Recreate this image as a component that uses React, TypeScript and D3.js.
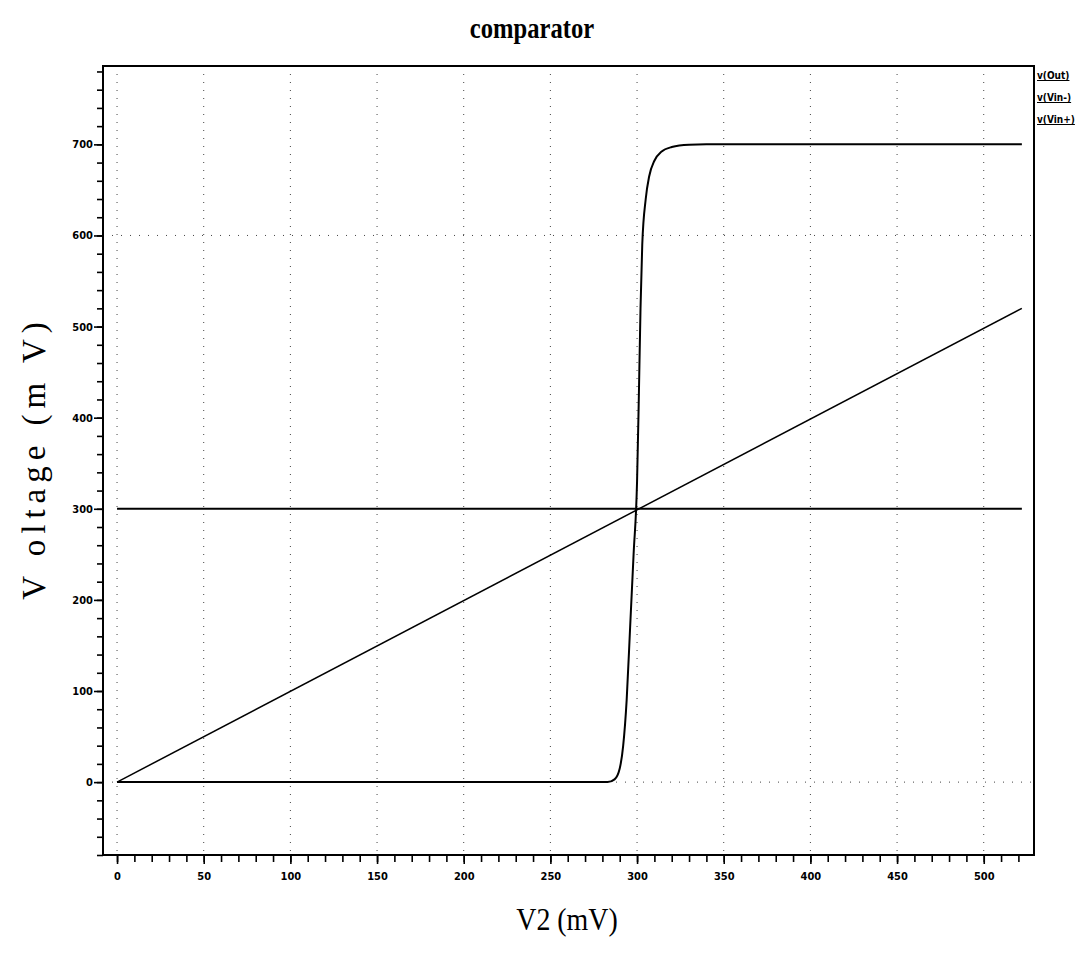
import React, { useEffect, useRef } from 'react';
import * as d3 from 'd3';

// sweep values (mV)
const outX = [0, 283, 287, 290, 292, 294, 296, 298, 300, 301, 302, 303, 305, 307, 310, 314, 320, 330, 340, 522];
const outY = [0, 0, 3, 15, 40, 90, 170, 250, 330, 420, 520, 590, 640, 665, 682, 692, 697, 699.5, 700, 700];

const vinMinusX = [0, 522];
const vinMinusY = [300, 300];

const vinPlusX = [0, 522];
const vinPlusY = [0, 520];

const xTicks = [0, 50, 100, 150, 200, 250, 300, 350, 400, 450, 500];
const yTicks = [0, 100, 200, 300, 400, 500, 600, 700];
const legendLabels = ['v(Out)', 'v(Vin-)', 'v(Vin+)'];

const W = 1079, H = 954;

const App = () => {
  const ref = useRef<SVGSVGElement>(null);

  useEffect(() => {
    const svg = d3.select(ref.current);
    svg.selectAll('*').remove();

    const left = 103, right = 1034, top = 66, bottom = 855;

    const x = d3.scaleLinear().domain([-8.1, 529]).range([left, right]);
    const y = d3.scaleLinear().domain([-80, 786]).range([bottom, top]);

    // grid
    svg.append('g')
      .selectAll('line')
      .data(xTicks)
      .enter()
      .append('line')
      .attr('x1', d => x(d)).attr('x2', d => x(d))
      .attr('y1', top).attr('y2', bottom)
      .attr('stroke', '#444')
      .attr('stroke-width', 1)
      .attr('stroke-dasharray', '1,7');

    svg.append('g')
      .selectAll('line')
      .data(yTicks.filter(d => d === 0 || d === 600))
      .enter()
      .append('line')
      .attr('x1', left).attr('x2', right)
      .attr('y1', d => y(d)).attr('y2', d => y(d))
      .attr('stroke', '#444')
      .attr('stroke-width', 1)
      .attr('stroke-dasharray', '1,8');

    // axes
    const xMinor = d3.range(-0, 530, 10);
    const yMinor = d3.range(-80, 787, 20);
    const tickFont = 'Liberation Sans Narrow, DejaVu Sans Condensed, sans-serif';

    const gxm = svg.append('g').attr('transform', `translate(0,${bottom})`);
    gxm.call(d3.axisBottom(x).tickValues(xMinor).tickSize(7).tickFormat(() => ''));
    const gx = svg.append('g').attr('transform', `translate(0,${bottom})`);
    gx.call(d3.axisBottom(x).tickValues(xTicks).tickSize(9).tickFormat(d3.format('d')));
    svg.selectAll('.domain').remove();
    [gxm, gx].forEach(g => g.selectAll('line').attr('stroke', '#000').attr('stroke-width', 1.6));
    gx.selectAll('text')
      .attr('font-family', tickFont)
      .attr('font-weight', 'bold')
      .attr('font-size', 11)
      .attr('fill', '#000')
      .attr('dy', '1.2em');

    const gym = svg.append('g').attr('transform', `translate(${left},0)`);
    gym.call(d3.axisLeft(y).tickValues(yMinor).tickSize(6).tickFormat(() => ''));
    const gy = svg.append('g').attr('transform', `translate(${left},0)`);
    gy.call(d3.axisLeft(y).tickValues(yTicks).tickSize(9).tickFormat(d3.format('d')));
    svg.selectAll('.domain').remove();
    [gym, gy].forEach(g => g.selectAll('line').attr('stroke', '#000').attr('stroke-width', 1.6));
    gy.selectAll('text')
      .attr('font-family', tickFont)
      .attr('font-weight', 'bold')
      .attr('font-size', 11)
      .attr('fill', '#000')
      .attr('x', -10);

    // frame
    svg.append('rect')
      .attr('x', left).attr('y', top)
      .attr('width', right - left).attr('height', bottom - top)
      .attr('fill', 'none')
      .attr('stroke', '#000')
      .attr('stroke-width', 2);

    const line = d3.line<[number, number]>()
      .x(d => x(d[0]))
      .y(d => y(d[1]));

    const series = [
      { xs: vinMinusX, ys: vinMinusY, curve: d3.curveLinear, w: 2 },
      { xs: vinPlusX, ys: vinPlusY, curve: d3.curveLinear, w: 1.5 },
      { xs: outX, ys: outY, curve: d3.curveMonotoneX, w: 2 },
    ];
    series.forEach(s => {
      const pts = s.xs.map((v, i) => [v, s.ys[i]] as [number, number]);
      svg.append('path')
        .attr('d', line.curve(s.curve)(pts))
        .attr('fill', 'none')
        .attr('stroke', '#000')
        .attr('stroke-width', s.w);
    });

    // legend
    svg.append('g')
      .selectAll('text')
      .data(legendLabels)
      .enter()
      .append('text')
      .attr('x', right + 3)
      .attr('y', (d, i) => 79 + i * 22)
      .attr('font-family', tickFont)
      .attr('font-weight', 'bold')
      .attr('font-size', 10)
      .attr('text-decoration', 'underline')
      .text(d => d);

    // titles
    svg.append('text')
      .attr('x', 532).attr('y', 38)
      .attr('text-anchor', 'middle')
      .attr('font-family', 'Liberation Serif, serif')
      .attr('font-weight', 'bold')
      .attr('font-size', 30)
      .attr('transform', 'translate(532,0) scale(0.82,1) translate(-532,0)')
      .text('comparator');

    svg.append('text')
      .attr('x', 567).attr('y', 930)
      .attr('text-anchor', 'middle')
      .attr('font-family', 'Liberation Serif, serif')
      .attr('font-size', 31)
      .attr('transform', 'translate(567,0) scale(0.9,1) translate(-567,0)')
      .text('V2 (mV)');

    svg.append('text')
      .attr('transform', `translate(45,458) rotate(-90)`)
      .attr('text-anchor', 'middle')
      .attr('font-family', 'Liberation Serif, serif')
      .attr('font-size', 33)
      .attr('letter-spacing', 6)
      .text('V oltage  (m V)');
  }, []);

  return (
    <svg ref={ref} width={W} height={H} style={{ display: 'block', position: 'absolute', left: 0, top: 0, background: '#fff' }} />
  );
};

export default App;
